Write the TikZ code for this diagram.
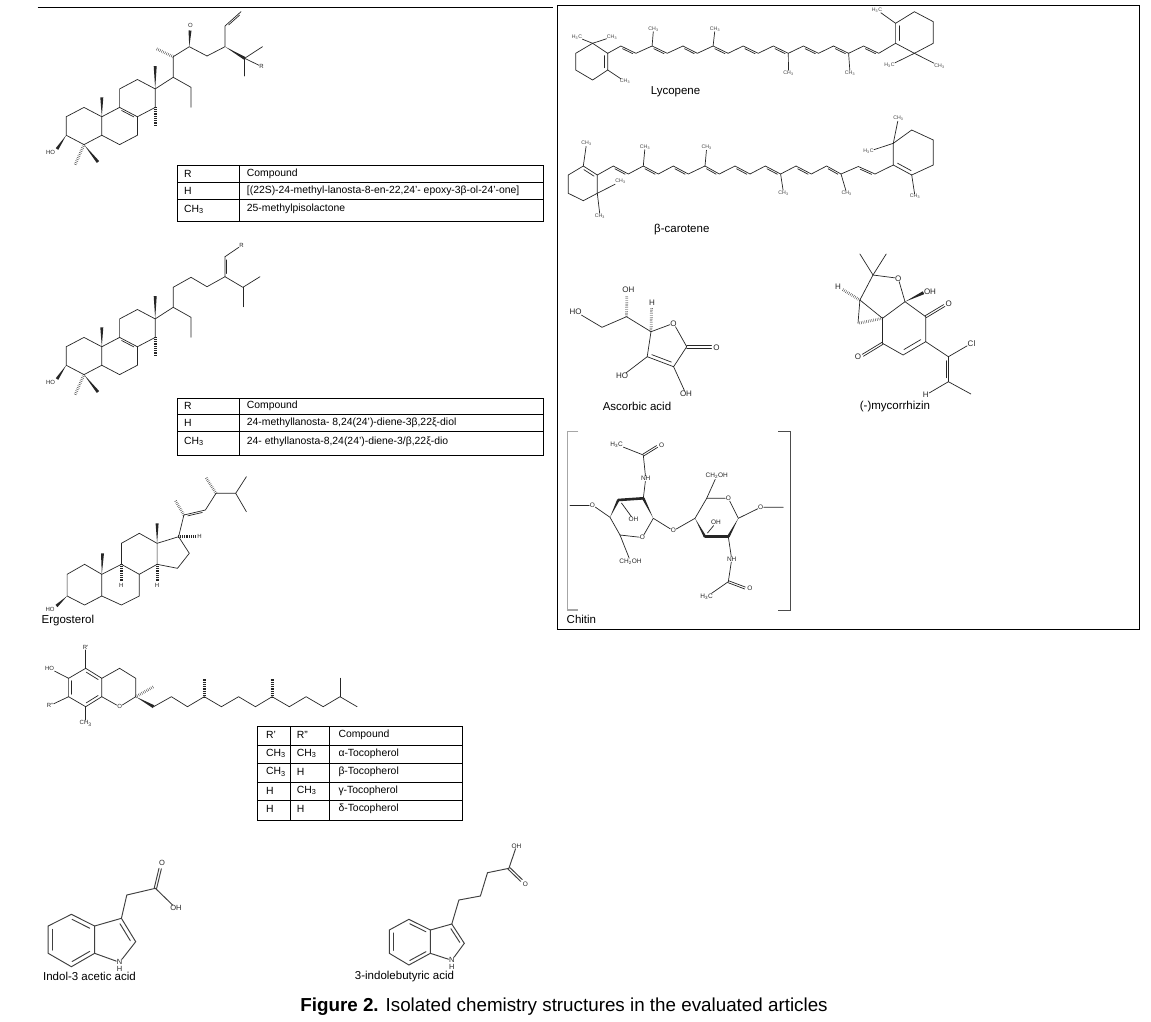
\documentclass[tikz,border=0pt]{standalone}
\usepackage{fontspec}
\setmainfont{Liberation Sans}
\usetikzlibrary{calc,decorations.pathreplacing}
\newcommand{\wdg}[3][1.5pt]{\fill[black!85] (#2) -- ($(#3)!#1!90:(#2)$) -- ($(#3)!#1!-90:(#2)$) -- cycle;}
\newcommand{\hsh}[2]{\draw[hashbond] (#1) -- (#2);}
\newcommand{\dbl}[3]{\draw[bond] ($(#1)!0.16!(#2)!#3!90:(#2)$) -- ($(#2)!0.16!(#1)!#3!-90:(#1)$);}
\newcommand{\dblc}[4][0.18]{\draw[bond,shorten <=0.8pt,shorten >=0.8pt] ($(#2)!#1!(#4)$) -- ($(#3)!#1!(#4)$);}
\newcommand{\cdbl}[3][1.1pt]{\draw[bond] ($(#2)!#1!90:(#3)$) -- ($(#3)!#1!-90:(#2)$); \draw[bond] ($(#2)!#1!-90:(#3)$) -- ($(#3)!#1!90:(#2)$);}
\newcommand{\CHt}{CH\textsubscript{3}}
\newcommand{\HtC}{H\textsubscript{3}C}
\newcommand{\CHtOH}{CH\textsubscript{2}OH}
\newcommand{\lanocore}{%
  \coordinate (A1) at (84,107.4);   \coordinate (A2) at (101.8,116.75);
  \coordinate (A3) at (101.8,135.25); \coordinate (A4) at (84,144.6);
  \coordinate (A5) at (66.2,135.25); \coordinate (A6) at (66.2,116.75);
  \coordinate (B1) at (119.6,107.4); \coordinate (B2) at (137.4,116.75);
  \coordinate (B3) at (137.4,135.25); \coordinate (B4) at (119.6,144.6);
  \coordinate (C1) at (119.6,88.9); \coordinate (C2) at (137.4,79.5);
  \coordinate (C3) at (155.2,88.9); \coordinate (C4) at (155.2,107.4);
  \draw[bond] (A1)--(A2)--(A3)--(A4)--(A5)--(A6)--cycle;
  \draw[bond] (A2)--(B1)--(B2)--(B3)--(B4)--(A3);
  \draw[bond] (B1)--(C1)--(C2)--(C3)--(C4)--(B2);
  \dbl{B1}{B2}{-1.8pt}
  \wdg{A2}{101.8,97.3}
  \wdg{A5}{57,149}
  \node[sl] at (50.5,152) {HO};
  \hsh{A4}{75,165}
  \wdg{A4}{98,162}
  \wdg{C3}{155.2,66}
  \hsh{C4}{155.2,127}
}
\begin{document}
\begin{tikzpicture}[x=1pt,y=-1pt,
  bond/.style={line width=0.7pt,draw=black!85,line cap=round},
  ibond/.style={line width=0.95pt,draw=black!75,line cap=round},
  hashbond/.style={line width=0.35pt,draw=black!85,decorate,decoration={ticks,segment length=1.8pt,amplitude=1.4pt}},
  tline/.style={line width=0.8pt,draw=black},
  sl/.style={inner sep=0.3pt,text=black!85,font=\fontsize{6}{6}\selectfont},
  kl/.style={inner sep=0.2pt,text=black!75,font=\fontsize{5.2}{5.2}\selectfont},
  al/.style={inner sep=0.4pt,text=black!85,font=\fontsize{8}{8}\selectfont},
  hl/.style={inner sep=0.3pt,text=black!85,font=\fontsize{6.5}{6.5}\selectfont},
  il/.style={inner sep=0.4pt,text=black!85,font=\fontsize{7.5}{7.5}\selectfont},
  nm/.style={inner sep=0pt,font=\fontsize{11.5}{12}\selectfont},
  tb/.style={inner sep=0pt,anchor=west,text=black,font=\fontsize{10.4}{11}\selectfont}]
\useasboundingbox (0,0) rectangle (1151,1021);
\fill[white] (0,0) rectangle (1151,1021);

% ---------- frames ----------
\draw[line width=0.9pt] (37.5,7.3) -- (553,7.3);
\draw[line width=0.9pt] (557,5) rectangle (1139,629);

% ---------- structure 1 ----------
\lanocore
\coordinate (D20) at (173.2,77.3); \coordinate (D21) at (173.2,56.7);
\coordinate (D22) at (191,87.3); \coordinate (D23) at (191,107.3);
\coordinate (D24) at (189.3,46.7); \coordinate (D25) at (207,56);
\coordinate (D26) at (225,46.7); \coordinate (D27) at (225,26);
\coordinate (D28) at (241,11.7); \coordinate (D29) at (244.6,58.3);
\draw[bond] (C3)--(D20)--(D21)--(D24)--(D25)--(D26)--(D27)--(D28);
\draw[bond] (D20)--(D22)--(D23);
\dbl{D27}{D28}{-1.6pt}
\hsh{D21}{155.4,48.3}
\wdg{D24}{190,30.5}
\node[sl] at (190.4,25.5) {O};
\wdg{D26}{D29}
\draw[bond] (D29)--(262.5,46.7);
\draw[bond] (D29)--(244.6,76);
\node[sl] (s1R) at (261.5,66.5) {R};
\draw[bond] (D29)--(s1R);

% table 1
\draw[tline] (177.5,165.7) rectangle (543,221.7);
\draw[tline] (177.5,182.3)--(543,182.3);
\draw[tline] (177.5,199.3)--(543,199.3);
\draw[tline] (239,165.7)--(239,221.7);
\node[tb] at (184,174) {R};
\node[tb] at (246.7,174) {Compound};
\node[tb] at (184,191.3) {H};
\node[tb] at (246.7,191.3) {[(22S)-24-methyl-lanosta-8-en-22,24'- epoxy-3β-ol-24'-one]};
\node[tb] at (184,209.3) {\CHt};
\node[tb] at (246.7,209.3) {25-methylpisolactone};

% ---------- structure 2 ----------
\begin{scope}[shift={(0,230)}]
\lanocore
\coordinate (E20) at (173.2,77.3); \coordinate (E21) at (173.2,57.3);
\coordinate (E22) at (191,87.3); \coordinate (E23) at (191,107.3);
\coordinate (E24) at (191,47.3); \coordinate (E25) at (207,56.7);
\coordinate (E26) at (225,46.7); \coordinate (E27) at (225,26.7);
\coordinate (E29) at (242.9,57.3);
\draw[bond] (C3)--(E20)--(E21)--(E24)--(E25)--(E26)--(E27);
\draw[bond] (E20)--(E22)--(E23);
\dbl{E26}{E27}{-1.7pt}
\node[sl] (s2R) at (241.5,15.5) {R};
\draw[bond] (E27)--(s2R);
\draw[bond] (E26)--(E29)--(260,46.7);
\draw[bond] (E29)--(242.9,76.7);
\end{scope}

% table 2
\draw[tline] (177.5,398.3) rectangle (543,455.7);
\draw[tline] (177.5,414.8)--(543,414.8);
\draw[tline] (177.5,431.8)--(543,431.8);
\draw[tline] (239,398.3)--(239,455.7);
\node[tb] at (184,406) {R};
\node[tb] at (246.7,406) {Compound};
\node[tb] at (184,423) {H};
\node[tb] at (246.7,423) {24-methyllanosta- 8,24(24')-diene-3β,22ξ-diol};
\node[tb] at (184,441.5) {\CHt};
\node[tb] at (246.7,441.5) {24- ethyllanosta-8,24(24')-diene-3/β,22ξ-dio};

% ---------- ergosterol ----------
\coordinate (eA1) at (84.6,564.3); \coordinate (eA2) at (67.1,574.3);
\coordinate (eA3) at (67.1,596); \coordinate (eA4) at (84.6,605);
\coordinate (eA5) at (101.8,596); \coordinate (eA6) at (101.8,574.3);
\coordinate (eC9) at (121.4,564.3); \coordinate (eC8) at (139.3,574.3);
\coordinate (eB3) at (139.3,596); \coordinate (eB4) at (121.4,605);
\coordinate (eC11) at (121.4,543.3); \coordinate (eC12) at (139.3,533.3);
\coordinate (eC13) at (157.1,543.3); \coordinate (eC14) at (157.1,564.3);
\coordinate (eC17) at (178.6,536.7); \coordinate (eC16) at (189.3,553.3);
\coordinate (eC15) at (177.5,568.3);
\coordinate (eC20) at (183.9,515); \coordinate (eC22) at (205.4,510);
\coordinate (eC23) at (216,493.3); \coordinate (eC24) at (235.7,493.3);
\coordinate (eC25) at (246.4,476.7); \coordinate (eC26) at (246.4,511.7);
\draw[bond] (eA1)--(eA2)--(eA3)--(eA4)--(eA5)--(eA6)--cycle;
\draw[bond] (eA6)--(eC9)--(eC8)--(eB3)--(eB4)--(eA5);
\draw[bond] (eC9)--(eC11)--(eC12)--(eC13)--(eC14)--(eC8);
\draw[bond] (eC13)--(eC17)--(eC16)--(eC15)--(eC14);
\draw[bond] (eC17)--(eC20)--(eC22)--(eC23)--(eC24)--(eC25);
\draw[bond] (eC24)--(eC26);
\dbl{eC20}{eC22}{-1.7pt}
\wdg{eA6}{102.5,553.3}
\wdg{eC13}{157.1,523.3}
\hsh{eC9}{121.4,581}
\node[sl] at (121.4,585.5) {H};
\hsh{eC14}{157.1,581}
\node[sl] at (157.1,585.5) {H};
\hsh{eC17}{195,536.7}
\node[sl] at (199.5,536.7) {H};
\hsh{eC20}{175,500}
\hsh{eC23}{205.4,476.7}
\wdg{eA3}{56.5,606}
\node[sl] at (50,609) {HO};
\node[nm,anchor=west] at (41.5,621) {Ergosterol};

% ---------- tocopherol ----------
\coordinate (T1) at (85.7,668.3); \coordinate (T2) at (101.8,678.3);
\coordinate (T3) at (101.8,696.7); \coordinate (T4) at (85.7,706.7);
\coordinate (T5) at (68.6,696.7); \coordinate (T6) at (68.6,678.3);
\coordinate (Tc) at (85.2,687.5);
\coordinate (P1) at (119.6,668.3); \coordinate (P2) at (135.7,678.3);
\coordinate (P3) at (135.7,696.7);
\node[sl] (tO) at (119.6,706.7) {O};
\draw[bond] (T1)--(T2)--(T3)--(T4)--(T5)--(T6)--cycle;
\dblc{T1}{T2}{Tc} \dblc{T6}{T5}{Tc} \dblc{T4}{T3}{Tc}
\draw[bond] (T2)--(P1)--(P2)--(P3)--(tO)--(T3);
\node[sl] (tR1) at (85.7,647.5) {R'};
\node[sl] (tHO) at (49.5,668.5) {HO};
\node[sl] (tR2) at (50,705.5) {R''};
\node[sl] (tMe) at (85.7,723.5) {\CHt};
\draw[bond] (T1)--(tR1); \draw[bond] (T6)--(tHO);
\draw[bond] (T5)--(tR2); \draw[bond] (T4)--(tMe);
\hsh{P3}{153.6,686.7}
\coordinate (W) at (153.6,706.7);
\wdg[1.6pt]{P3}{W}
\draw[bond] (W) -- (171.4,696.7) -- (187.5,706.7) -- (204.3,696.7) coordinate (k1)
  -- (221.4,706.7) -- (238.6,696.7) -- (255.4,706.7) -- (272.1,696.7) coordinate (k2)
  -- (289.3,706.7) -- (306.1,696.7) -- (323.2,706.7) -- (340,696.7) coordinate (k3)
  -- (357.1,706.7);
\hsh{k1}{204.3,678.3}
\hsh{k2}{272.1,678.3}
\draw[bond] (k3)--(340,678.3);

% table 3
\draw[tline] (256.9,726.5) rectangle (462.4,820);
\foreach \yy in {745.3,763.8,782.3,800.8} \draw[tline] (256.9,\yy)--(462.4,\yy);
\draw[tline] (290.7,726.5)--(290.7,820);
\draw[tline] (329.3,726.5)--(329.3,820);
\node[tb] at (266,734.5) {R'};  \node[tb] at (296.7,734.5) {R''}; \node[tb] at (338.3,734.5) {Compound};
\node[tb] at (266,753.5) {\CHt}; \node[tb] at (296.7,753.5) {\CHt}; \node[tb] at (338.3,753.5) {α-Tocopherol};
\node[tb] at (266,772) {\CHt}; \node[tb] at (296.7,772) {H}; \node[tb] at (338.3,772) {β-Tocopherol};
\node[tb] at (266,790.5) {H}; \node[tb] at (296.7,790.5) {\CHt}; \node[tb] at (338.3,790.5) {γ-Tocopherol};
\node[tb] at (266,809) {H}; \node[tb] at (296.7,809) {H}; \node[tb] at (338.3,809) {δ-Tocopherol};

% ---------- indol-3 acetic acid ----------
\coordinate (iB1) at (71.4,914.3); \coordinate (iB2) at (94.6,926);
\coordinate (iB3) at (94.6,953.3); \coordinate (iB4) at (71.4,966.7);
\coordinate (iB5) at (48.2,953.3); \coordinate (iB6) at (48.2,926);
\coordinate (iBc) at (71.4,940.3);
\coordinate (iC3) at (121.4,918.3); \coordinate (iC2) at (135.7,941.7);
\coordinate (iPc) at (113.2,940.2);
\node[il] (iN) at (119.6,962.3) {N};
\node[il] at (119.6,969.3) {H};
\coordinate (iCH2) at (126.8,895); \coordinate (iC) at (155.4,888.3);
\coordinate (iOe) at (160.2,868.5);
\node[il] at (162,862.7) {O};
\node[il] (iOH) at (176,908.3) {OH};
\begin{scope}[bond/.style={ibond}]
\draw[bond] (iB1)--(iB2)--(iB3)--(iB4)--(iB5)--(iB6)--cycle;
\dblc{iB1}{iB2}{iBc} \dblc{iB3}{iB4}{iBc} \dblc{iB5}{iB6}{iBc}
\draw[bond] (iB2)--(iC3)--(iC2)--(iN)--(iB3);
\dblc[0.22]{iC3}{iC2}{iPc}
\draw[bond] (iC3)--(iCH2)--(iC)--(iOH);
\cdbl[1.2pt]{iC}{iOe}
\end{scope}
\node[nm] at (89.5,976.7) {Indol-3 acetic acid};

% ---------- 3-indolebutyric acid ----------
\coordinate (jB1) at (408.9,919.3); \coordinate (jB2) at (430.4,930);
\coordinate (jB3) at (430.4,953.3); \coordinate (jB4) at (408.9,965);
\coordinate (jB5) at (389.3,953.3); \coordinate (jB6) at (389.3,930);
\coordinate (jBc) at (409.9,942);
\coordinate (jC3) at (451.8,924); \coordinate (jC2) at (464.3,943.3);
\coordinate (jPc) at (445.7,942.1);
\node[il] (jN) at (451.8,960.3) {N};
\node[il] at (451.8,967) {H};
\coordinate (j1) at (458.9,900); \coordinate (j2) at (480.4,896);
\coordinate (j3) at (487.5,872.7); \coordinate (j4) at (508.9,868.3);
\coordinate (jOe) at (521.5,880.5);
\node[hl] at (525.5,884.5) {O};
\node[hl] (jOH) at (516.5,846) {OH};
\begin{scope}[bond/.style={ibond}]
\draw[bond] (jB1)--(jB2)--(jB3)--(jB4)--(jB5)--(jB6)--cycle;
\dblc{jB1}{jB2}{jBc} \dblc{jB3}{jB4}{jBc} \dblc{jB5}{jB6}{jBc}
\draw[bond] (jB2)--(jC3)--(jC2)--(jN)--(jB3);
\dblc[0.22]{jC3}{jC2}{jPc}
\draw[bond] (jC3)--(j1)--(j2)--(j3)--(j4)--(jOH);
\cdbl[1.2pt]{j4}{jOe}
\end{scope}
\node[nm] at (404.5,976.7) {3-indolebutyric acid};

% ---------- lycopene ----------
\coordinate (L1) at (575.7,53.3); \coordinate (L2) at (575.7,70);
\coordinate (L3) at (592.6,80); \coordinate (L4) at (607.7,70);
\coordinate (L5) at (607.7,53.3); \coordinate (L6) at (592.6,43.3);
\coordinate (Lc) at (591.7,61.7);
\draw[bond] (L1)--(L2)--(L3)--(L4)--(L5)--(L6)--cycle;
\dblc{L5}{L4}{Lc}
\node[kl] (lm1) at (577,37) {\HtC};
\node[kl] (lm2) at (612,37) {\CHt};
\node[kl] (lm3) at (625,81.5) {\CHt};
\draw[bond] (L6)--(lm1); \draw[bond] (L6)--(lm2); \draw[bond] (L4)--(lm3);
\coordinate (R1) at (895.6,43.3); \coordinate (R2) at (895.6,23.3);
\coordinate (R3) at (914.4,11.7); \coordinate (R4) at (933.3,21.7);
\coordinate (R5) at (933.3,43.3); \coordinate (R6) at (914.4,53.3);
\coordinate (Rc) at (914.4,32.5);
\draw[bond] (L5) -- (620.9,46) coordinate (p1) -- (635.9,53.3) coordinate (p2)
 -- (652.1,46) coordinate (p3) -- (667.2,53.3) coordinate (p4)
 -- (683,46) coordinate (p5) -- (697.3,53.3) coordinate (p6)
 -- (713.1,46) coordinate (p7) -- (728.1,53.3) coordinate (p8)
 -- (743.2,46) coordinate (p9) -- (758.2,53.3) coordinate (p10)
 -- (773.3,46) coordinate (p11) -- (788.3,53.3) coordinate (p12)
 -- (803.4,46) coordinate (p13) -- (818.5,53.3) coordinate (p14)
 -- (833.5,46) coordinate (p15) -- (848.6,53.3) coordinate (p16)
 -- (863.6,46) coordinate (p17) -- (878.7,53.3) coordinate (p18) -- (R1);
\foreach \a/\b in {p1/p2,p3/p4,p5/p6,p7/p8,p9/p10,p11/p12,p13/p14,p15/p16,p17/p18} {\dbl{\a}{\b}{-1.7pt}}
\node[kl] (lm4) at (653.5,29) {\CHt};
\node[kl] (lm5) at (715,29) {\CHt};
\node[kl] (lm6) at (788.5,73) {\CHt};
\node[kl] (lm7) at (850,73) {\CHt};
\draw[bond] (p3)--(lm4); \draw[bond] (p7)--(lm5);
\draw[bond] (p12)--(lm6); \draw[bond] (p16)--(lm7);
\draw[bond] (R1)--(R2)--(R3)--(R4)--(R5)--(R6)--cycle;
\dblc{R1}{R2}{Rc}
\node[kl] (lm8) at (877,10) {\HtC};
\node[kl] (lm9) at (889.5,65.5) {\HtC};
\node[kl] (lm10) at (939.5,66) {\CHt};
\draw[bond] (R2)--(lm8); \draw[bond] (R6)--(lm9); \draw[bond] (R6)--(lm10);
\node[nm] at (675.5,91.7) {Lycopene};

% ---------- beta-carotene ----------
\coordinate (K1) at (583.3,166); \coordinate (K2) at (597.3,175);
\coordinate (K3) at (597.3,193.3); \coordinate (K4) at (583.3,200.7);
\coordinate (K5) at (568.3,193.3); \coordinate (K6) at (568.3,175);
\coordinate (Kc) at (583,184);
\draw[bond] (K1)--(K2)--(K3)--(K4)--(K5)--(K6)--cycle;
\dblc{K1}{K2}{Kc}
\node[kl] (bm1) at (586.5,143.5) {\CHt};
\node[kl] (bm2) at (620.5,181.5) {\CHt};
\node[kl] (bm3) at (600,216) {\CHt};
\draw[bond] (K1)--(bm1); \draw[bond] (K3)--(bm2); \draw[bond] (K3)--(bm3);
\coordinate (J1) at (893.3,165); \coordinate (J2) at (893.3,143.3);
\coordinate (J3) at (911.7,130); \coordinate (J4) at (933.3,140);
\coordinate (J5) at (933.3,165); \coordinate (J6) at (911.7,175);
\coordinate (Jc) at (912.7,152.9);
\draw[bond] (K2) -- (613.3,166) coordinate (q1) -- (628.3,174) coordinate (q2)
 -- (643.3,166) coordinate (q3) -- (658.3,174) coordinate (q4)
 -- (673.3,166) coordinate (q5) -- (688.3,174) coordinate (q6)
 -- (705,166) coordinate (q7) -- (719.3,174) coordinate (q8)
 -- (735,166) coordinate (q9) -- (750,174) coordinate (q10)
 -- (765.3,166) coordinate (q11) -- (780.6,174) coordinate (q12)
 -- (796,166) coordinate (q13) -- (811.3,174) coordinate (q14)
 -- (826.6,166) coordinate (q15) -- (841,174) coordinate (q16)
 -- (858.3,166.5) coordinate (q17) -- (875,174) coordinate (q18) -- (J1);
\foreach \a/\b in {q1/q2,q3/q4,q5/q6,q7/q8,q9/q10,q11/q12,q13/q14,q15/q16,q17/q18} {\dbl{\a}{\b}{-1.7pt}}
\node[kl] (bm4) at (645,147) {\CHt};
\node[kl] (bm5) at (706.7,147.5) {\CHt};
\node[kl] (bm6) at (783.5,193) {\CHt};
\node[kl] (bm7) at (846.7,193.3) {\CHt};
\draw[bond] (q3)--(bm4); \draw[bond] (q7)--(bm5);
\draw[bond] (q12)--(bm6); \draw[bond] (q16)--(bm7);
\draw[bond] (J1)--(J2)--(J3)--(J4)--(J5)--(J6)--cycle;
\dblc{J1}{J6}{Jc}
\node[kl] (bm8) at (898.3,118.5) {\CHt};
\node[kl] (bm9) at (868.5,151.5) {\HtC};
\node[kl] (bm10) at (915,196.5) {\CHt};
\draw[bond] (J2)--(bm8); \draw[bond] (J2)--(bm9); \draw[bond] (J6)--(bm10);
\node[nm] at (681.8,229.3) {β-carotene};

% ---------- ascorbic acid ----------
\coordinate (aC4) at (651,331.7); \coordinate (aC1) at (686.7,346.7);
\coordinate (aC2) at (673.6,366.7); \coordinate (aC3) at (647.2,356.7);
\coordinate (aC5) at (626.5,316.7); \coordinate (aC6) at (602,327.3);
\coordinate (ac) at (666.4,345);
\coordinate (aOe) at (711.5,346.7);
\node[al] (aO1) at (673.6,323.3) {O};
\node[al] at (716.5,347.3) {O};
\node[al] (aOH2) at (686,394) {OH};
\node[al] (aHO3) at (622,376) {HO};
\node[al] at (628.4,289.3) {OH};
\node[al] (aHO6) at (575.7,311.7) {HO};
\node[al] at (652.1,303) {H};
\draw[bond] (aC4)--(aO1)--(aC1)--(aC2)--(aC3)--(aC4);
\dblc[0.2]{aC2}{aC3}{ac}
\cdbl[1.2pt]{aC1}{aOe}
\draw[bond] (aC2)--(aOH2); \draw[bond] (aC3)--(aHO3);
\draw[bond] (aC4)--(aC5)--(aC6)--(aHO6);
\hsh{aC4}{651.5,308}
\hsh{aC5}{626.8,295.5}
\node[nm] at (637,406.7) {Ascorbic acid};

% ---------- mycorrhizin ----------
\coordinate (mG) at (873,275); \coordinate (m7a) at (905,301.7);
\coordinate (m6) at (925.7,316.7); \coordinate (m5) at (925.7,341.7);
\coordinate (m4) at (903.1,355); \coordinate (m3) at (882.5,343.3);
\coordinate (m3a) at (882.5,318.3); \coordinate (mCH) at (859.9,300);
\coordinate (mCH2) at (858,323.3); \coordinate (mCCl) at (948.4,356.7);
\coordinate (mCH3) at (948.4,381.7); \coordinate (mc) at (904.1,329.5);
\node[al] (mO) at (898.2,278.3) {O};
\node[al] at (930,291.7) {OH};
\node[al] at (948.8,303.3) {O};
\node[al] at (858,357) {O};
\node[al] at (838,286.7) {H};
\node[al] (mCl) at (971.5,343.3) {Cl};
\node[al] (mH2) at (925.7,395) {H};
\draw[bond] (mG)--(mO)--(m7a)--(m3a)--(mCH)--(mG);
\draw[bond] (mG)--(859.9,254); \draw[bond] (mG)--(886.2,254);
\wdg[1.6pt]{m7a}{923.5,292.7}
\draw[bond] (m7a)--(m6)--(m5)--(m4)--(m3)--(m3a);
\cdbl[1.1pt]{m6}{944.3,305.5}
\cdbl[1.1pt]{m3}{862.8,355.3}
\dblc[0.2]{m5}{m4}{mc}
\hsh{mCH}{842.5,289.5}
\draw[bond] (mCH)--(mCH2);
\hsh{m3a}{mCH2}
\draw[bond] (m5)--(mCCl)--(mCl);
\draw[bond] (mCCl)--(mCH3)--(mH2);
\dbl{mCCl}{mCH3}{-2pt}
\draw[bond] (mCH3)--(970.9,394);
\node[nm] at (895,406.7) {(-)mycorrhizin};

% ---------- chitin ----------
\draw[line width=1.1pt,draw=black!35] (578.3,431.7)--(567.7,431.7)--(567.7,610)--(578.3,610);
\draw[line width=1pt,draw=black!70] (778.3,431.7)--(790,431.7)--(790,610)--(778.3,610);
\node[hl] (chO1) at (592.3,505) {O};
\draw[bond] (570,505)--(chO1);
\coordinate (c4) at (610,517.3); \coordinate (c3) at (618.3,500);
\coordinate (c2) at (643.3,498.3); \coordinate (c1) at (653.3,518.3);
\coordinate (c5) at (620,535);
\node[hl] (cO5) at (642.3,537.5) {O};
\draw[bond] (chO1)--(c4)--(c5)--(cO5)--(c1);
\wdg[1.3pt]{c4}{c3}
\draw[line width=2.6pt,draw=black!85,line cap=round] (c3)--(c2);
\wdg[1.3pt]{c1}{c2}
\node[hl] (cCH2) at (630.5,561.5) {\CHtOH};
\draw[bond] (c5)--(cCH2);
\node[hl] (cOH) at (633.5,519.5) {OH};
\draw[bond] (621.5,503)--(cOH);
\node[hl] (cNH) at (645.7,478.5) {NH};
\coordinate (cC) at (643.3,455);
\draw[bond] (c2)--(cNH)--(cC);
\cdbl[1pt]{cC}{657.2,446.4}
\node[hl] at (661.7,445) {O};
\node[hl] (cMe) at (616.7,444.5) {\HtC};
\draw[bond] (cC)--(cMe);
\node[hl] (gO) at (673.3,530.7) {O};
\coordinate (d4) at (695,518.3); \coordinate (d5) at (706.7,498.3);
\coordinate (d1) at (738.3,518.3); \coordinate (d2) at (728.3,536.7);
\coordinate (d3) at (705,536.7);
\node[hl] (dO5) at (728.3,498.3) {O};
\draw[bond] (c1)--(gO)--(d4)--(d5)--(dO5)--(d1);
\wdg[1.3pt]{d4}{d3}
\draw[line width=2.6pt,draw=black!85,line cap=round] (d3)--(d2);
\wdg[1.3pt]{d1}{d2}
\node[hl] (dCH2) at (716.7,476) {\CHtOH};
\draw[bond] (d5)--(dCH2);
\node[hl] (dO) at (760.7,507.3) {O};
\draw[bond] (d1)--(dO)--(783.3,507.3);
\node[hl] (dOH) at (716,522.7) {OH};
\draw[bond] (707.5,533)--(dOH);
\node[hl] (dNH) at (731.7,559.3) {NH};
\coordinate (dC) at (728.3,581.7);
\draw[bond] (d2)--(dNH)--(dC);
\cdbl[1pt]{dC}{745,588}
\node[hl] at (750,588.3) {O};
\node[hl] (dMe) at (706.7,596.7) {\HtC};
\draw[bond] (dC)--(dMe);
\node[nm,anchor=west] at (566.5,619.3) {Chitin};

% ---------- caption ----------
\node[inner sep=0pt,font=\fontsize{18.8}{20}\selectfont] at (564,1006.5) {\textbf{Figure 2.} Isolated chemistry structures in the evaluated articles};
\end{tikzpicture}
\end{document}
